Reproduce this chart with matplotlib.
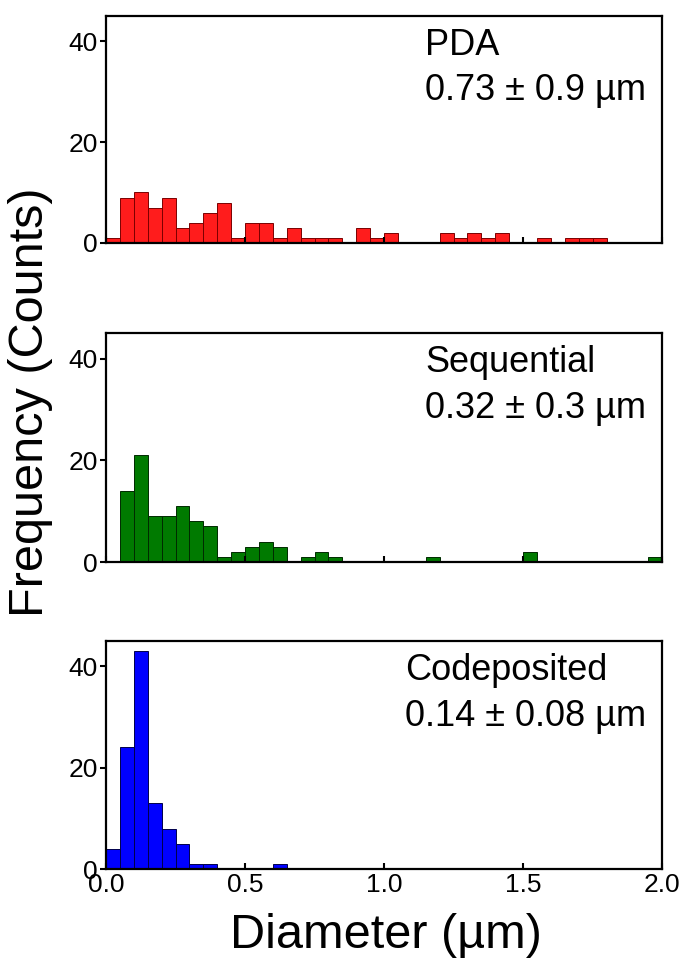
import matplotlib
matplotlib.use("Agg")
import matplotlib.pyplot as plt
import numpy as np

plt.rcParams["font.family"] = ["Liberation Sans", "DejaVu Sans"]

bin_width = 0.05

# counts per 0.05 um bin, starting at 0
pda_counts = [1, 9, 10, 7, 9, 3, 4, 6, 8, 1, 4, 4, 1, 3, 1, 1, 1, 0, 3, 1,
              2, 0, 0, 0, 2, 1, 2, 1, 2, 0, 0, 1, 0, 1, 1, 1]
seq_counts = [0, 14, 21, 9, 9, 11, 8, 7, 1, 2, 3, 4, 3, 0, 1, 2, 1, 0, 0, 0,
              0, 0, 0, 1, 0, 0, 0, 0, 0, 0, 2, 0, 0, 0, 0, 0, 0, 0, 0, 1]
codep_counts = [4, 24, 43, 13, 8, 5, 1, 1, 0, 0, 0, 0, 1]

names = ["PDA", "Sequential", "Codeposited"]
stats = ["0.73 \u00b1 0.9 \u00b5m", "0.32 \u00b1 0.3 \u00b5m", "0.14 \u00b1 0.08 \u00b5m"]
yticks = [0, 20, 40]
xticks = [0.0, 0.5, 1.0, 1.5, 2.0]

panels = [
    (pda_counts, "#ff1c1c", "#7a0000"),
    (seq_counts, "#007a00", "#002a00"),
    (codep_counts, "#0000ff", "#00004a"),
]

fig = plt.figure(figsize=(6.84, 9.64), dpi=100)
# axes boxes in figure fractions (left, bottom, width, height)
boxes = [
    [0.155, 0.748, 0.813, 0.2355],
    [0.155, 0.417, 0.813, 0.2375],
    [0.155, 0.0985, 0.813, 0.2365],
]
text_x = [0.574, 0.574, 0.538]

for i, (counts, fc, ec) in enumerate(panels):
    ax = fig.add_axes(boxes[i])
    left = np.arange(len(counts)) * bin_width
    ax.bar(left, counts, width=bin_width, align="edge",
           color=fc, edgecolor=ec, linewidth=0.7)
    ax.set_xlim(0, 2.0)
    ax.set_ylim(0, 45)
    ax.set_yticks(yticks)
    ax.set_xticks(xticks)
    for s in ax.spines.values():
        s.set_linewidth(1.6)
    ax.tick_params(axis="y", direction="out", length=4, width=1.5,
                   labelsize=19, pad=2)
    ax.tick_params(axis="x", direction="in", length=4, width=1.5,
                   labelsize=19, pad=3)
    if i < 2:
        ax.tick_params(axis="x", labelbottom=False)
    else:
        ax.set_xticklabels([f"{t:.1f}" for t in xticks])
    ax.text(text_x[i], 0.87, names[i], transform=ax.transAxes,
            fontsize=26, ha="left", va="center")
    ax.text(text_x[i], 0.67, stats[i], transform=ax.transAxes,
            fontsize=26, ha="left", va="center")

fig.text(0.044, 0.583, "Frequency (Counts)", rotation=90,
         fontsize=35, ha="center", va="center")
fig.text(0.564, 0.03, "Diameter (\u00b5m)", fontsize=35,
         ha="center", va="center")

plt.savefig("out.png", dpi=100)
